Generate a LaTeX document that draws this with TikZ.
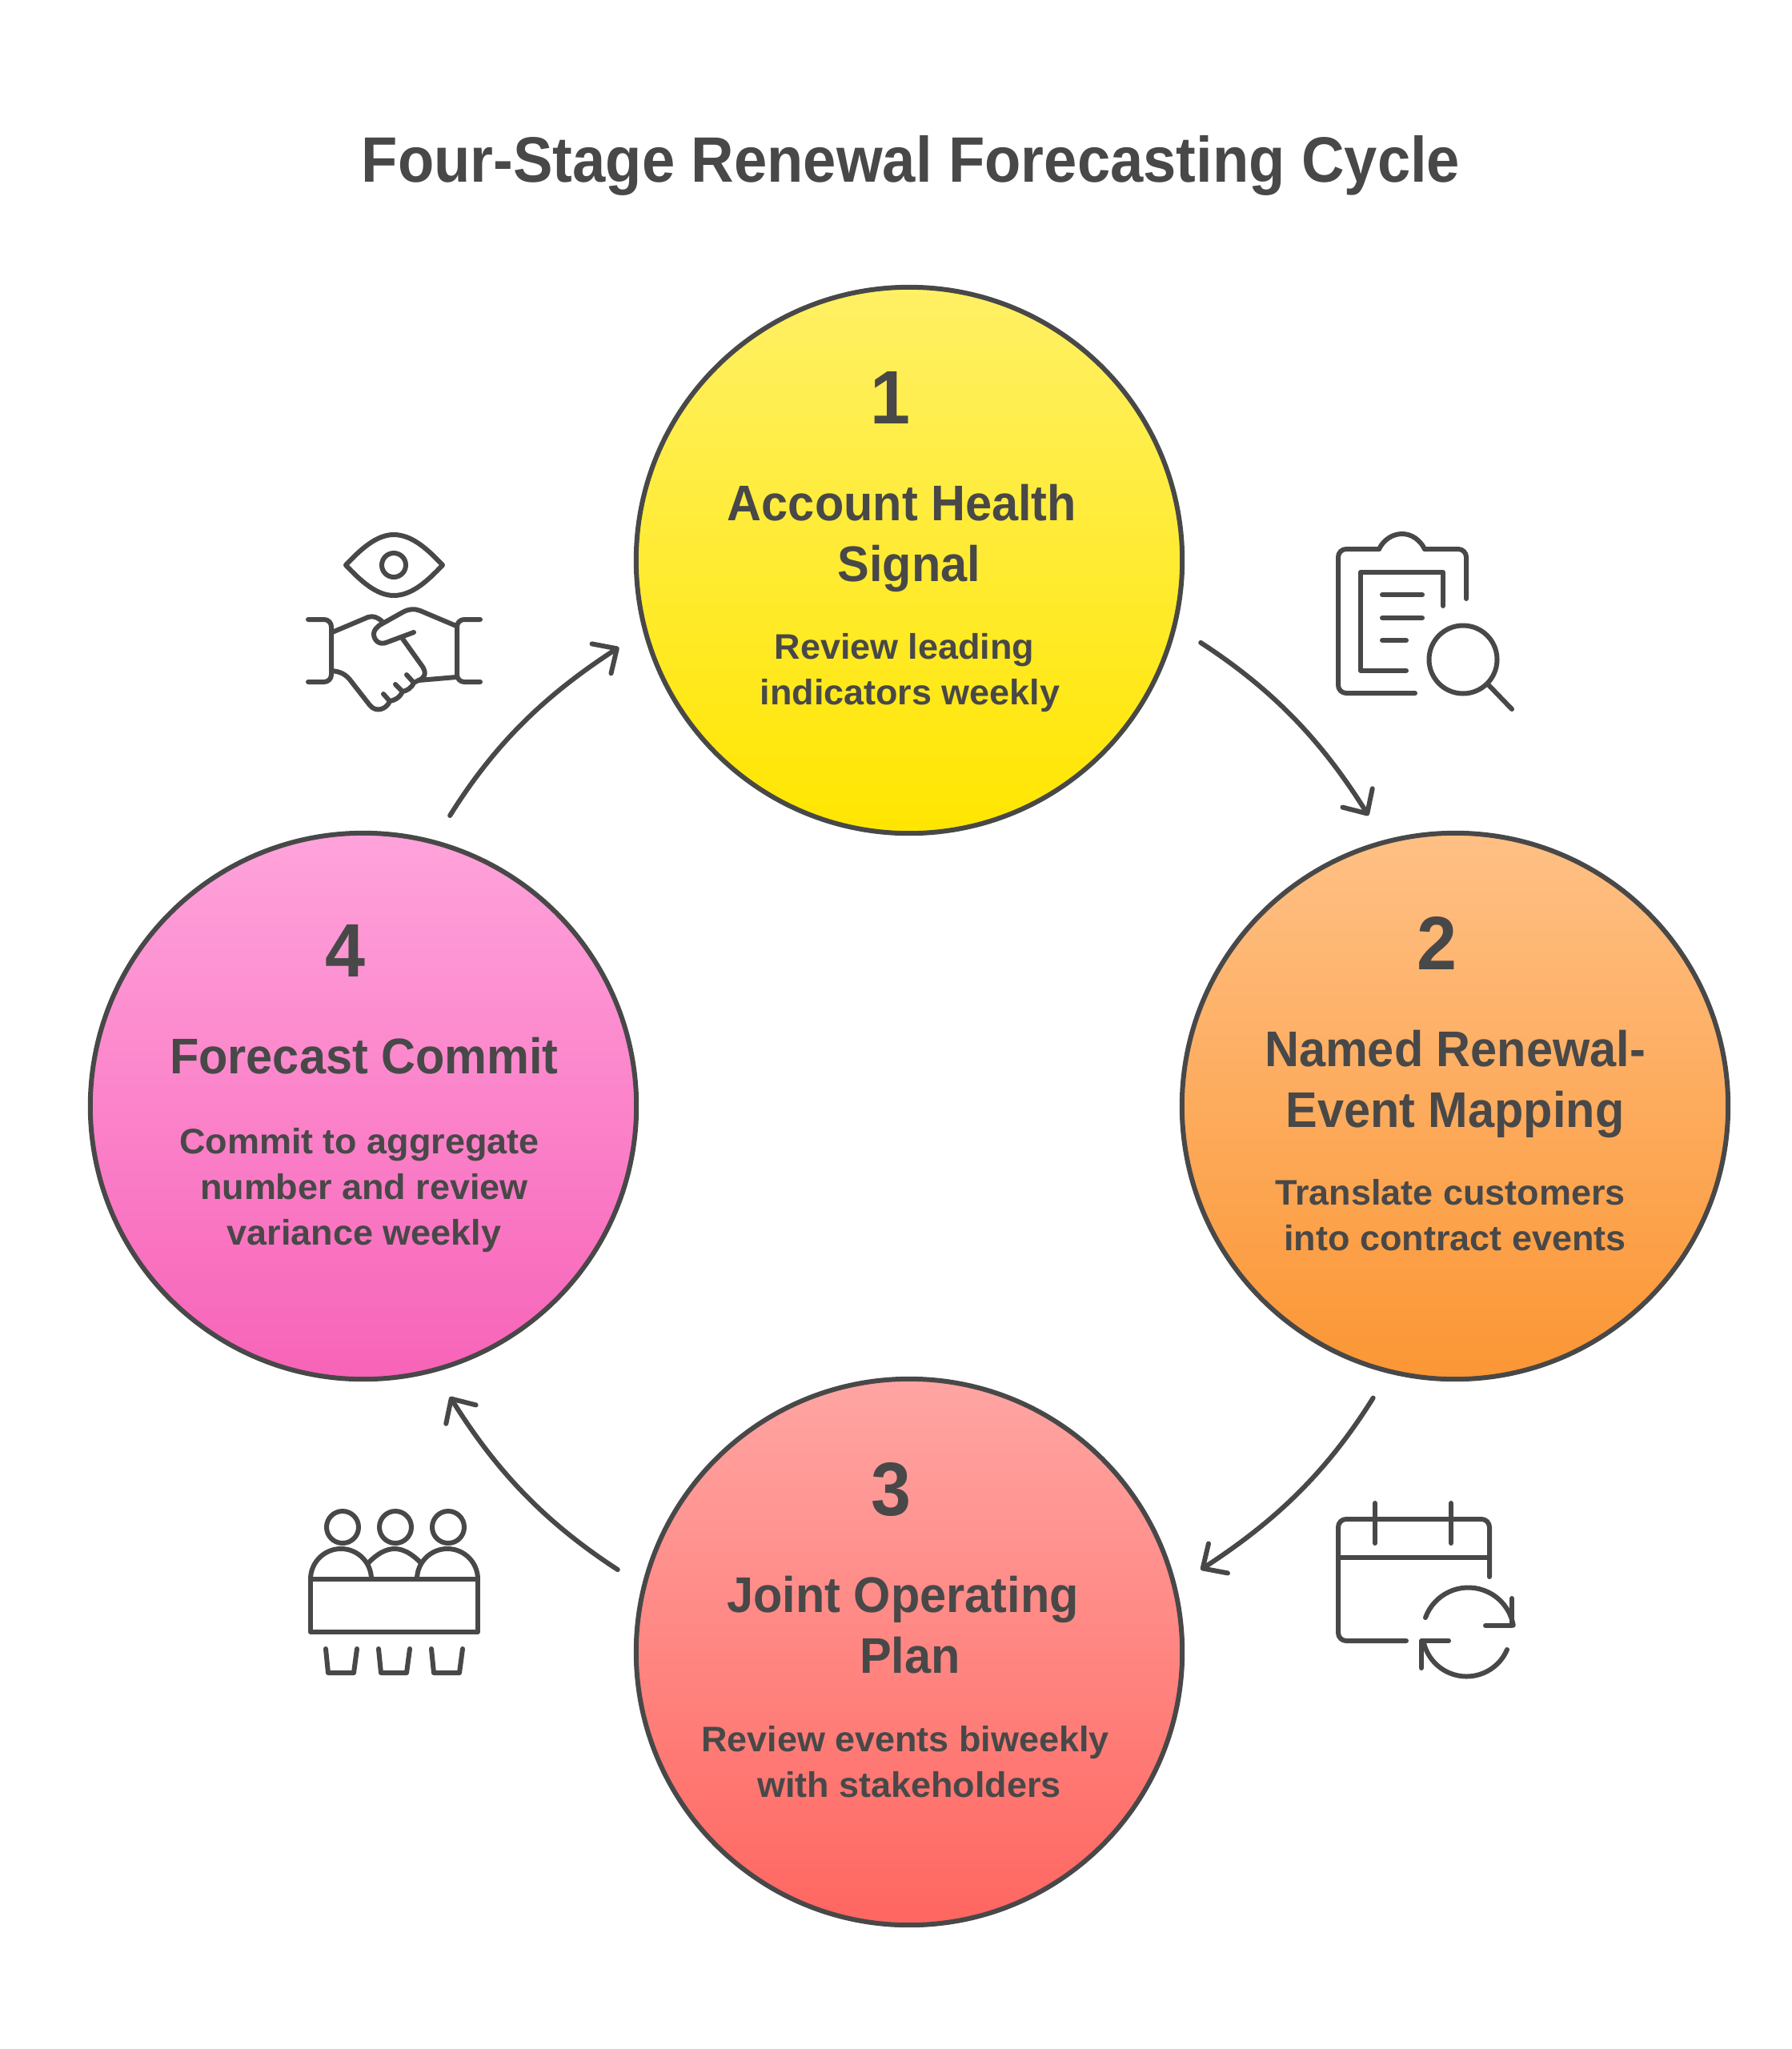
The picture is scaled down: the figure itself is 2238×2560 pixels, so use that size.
\documentclass[tikz,border=0pt]{standalone}
\usepackage{fontspec}
\setmainfont{Liberation Sans}[FakeStretch=0.95]
\newfontfamily\titulofont{Liberation Sans}[FakeStretch=0.925]
\newfontfamily\textofont{Liberation Sans}[FakeStretch=1.015]
\usetikzlibrary{arrows.meta}
\definecolor{ink}{HTML}{484848}
\definecolor{yellowtop}{HTML}{FFF065}
\definecolor{yellowbot}{HTML}{FFE600}
\definecolor{orangetop}{HTML}{FFC085}
\definecolor{orangebot}{HTML}{FB9634}
\definecolor{redtop}{HTML}{FFA5A3}
\definecolor{redbot}{HTML}{FF6660}
\definecolor{pinktop}{HTML}{FFA3DB}
\definecolor{pinkbot}{HTML}{F763B8}
\begin{document}
\begin{tikzpicture}[x=0.01cm,y=-0.01cm,>={Straight Barb[length=0.23cm,width=0.44cm,round]},
etapa/.style ={circle, draw=ink, line width=0.06cm, minimum size=6.82cm, inner sep=0pt},
titulo/.style ={text=ink, anchor=base, inner sep=0pt, font=\titulofont\bfseries\fontsize{22.8}{28}\selectfont},
numero/.style ={text=ink, anchor=base, inner sep=0pt, font=\bfseries\fontsize{26.9}{32}\selectfont},
cabeza/.style ={text=ink, anchor=base, inner sep=0pt, align=center, font=\bfseries\fontsize{17.8}{21.6}\selectfont},
texto/.style ={text=ink, anchor=base, inner sep=0pt, align=center, font=\textofont\bfseries\fontsize{12.6}{16.2}\selectfont},
flecha/.style ={->, draw=ink, line width=0.06cm, line cap=round, shorten >=0.36cm, shorten <=0.36cm},
icono/.style ={draw=ink, line width=0.06cm, line cap=round, line join=round}
]
\useasboundingbox (0,0) rectangle (2238,2560);
\draw (1138,227) node[titulo] (T) {Four-Stage Renewal Forecasting Cycle};

\draw (1136,700) node[etapa, top color=yellowtop, bottom color=yellowbot] (E1) {};
\draw (1818,1382) node[etapa, top color=orangetop, bottom color=orangebot] (E2) {};
\draw (1136,2064) node[etapa, top color=redtop, bottom color=redbot] (E3) {};
\draw (454,1382) node[etapa, top color=pinktop, bottom color=pinkbot] (E4) {};

\draw (1112,529) node[numero] (N1) {1};
\draw (1136,726) node[cabeza] (C1) {Account Health\hspace*{0.18cm}\\Signal};
\draw (1137,880) node[texto] (D1) {Review leading\hspace*{0.14cm}\\indicators weekly};

\draw (1795,1211) node[numero] (N2) {2};
\draw (1818,1408) node[cabeza] (C2) {Named Renewal-\\Event Mapping};
\draw (1818,1562) node[texto] (D2) {Translate customers\hspace*{0.12cm}\\into contract events};

\draw (1113,1893) node[numero] (N3) {3};
\draw (1137,2090) node[cabeza] (C3) {Joint Operating\hspace*{0.18cm}\\Plan};
\draw (1136,2245) node[texto] (D3) {Review events biweekly\hspace*{0.10cm}\\with stakeholders};

\draw (431,1220) node[numero] (N4) {4};
\draw (455,1341) node[cabeza] (C4) {Forecast Commit};
\draw (455,1555) node[texto] (D4) {Commit to aggregate\hspace*{0.12cm}\\number and review\hspace*{0.12cm}\\variance weekly};

\draw[flecha] (E1.-14.9) to[out=-33,in=122] (E2.105.5);
\draw[flecha] (E2.-104.7) to[out=-122,in=33] (E3.14.4);
\draw[flecha] (E3.166.1) to[out=147,in=-58] (E4.-75.3);
\draw[flecha] (E4.75.4) to[out=58,in=213] (E1.195.2);

\draw[icono, rounded corners=0.1cm] (1832,748) -- (1832,686) -- (1780,686);
\draw[icono] (1780,686) .. controls (1774,674) and (1763,667) .. (1752,667) .. controls (1740,667) and (1729,674) .. (1723,686);
\draw[icono, rounded corners=0.1cm] (1723,686) -- (1672,686) -- (1672,866) -- (1768,866);
\draw[icono] (1803,757) -- (1803,715) -- (1700,715) -- (1700,838) -- (1757,838);
\draw[icono] (1727,743) -- (1777,743);
\draw[icono] (1727,772) -- (1777,772);
\draw[icono] (1727,800) -- (1757,800);
\draw[icono] (1828,824) circle (42.5);
\draw[icono] (1860,856) -- (1889,886);

\draw[icono] (432,706) .. controls (450,687) and (470,668) .. (492,668) .. controls (515,668) and (535,687) .. (553,706) .. controls (535,725) and (515,744) .. (492,744) .. controls (470,744) and (450,725) .. (432,706) -- cycle;
\draw[icono] (492,706) circle (15);
\draw[icono, rounded corners=0.09cm] (385,774) -- (414,774) -- (414,852) -- (385,852);
\draw[icono, rounded corners=0.09cm] (600,774) -- (571,774) -- (571,852) -- (600,852);
\draw[icono] (415,790) -- (460,771) .. controls (466,769) and (472,771) .. (478,777);
\draw[icono] (570,782) -- (525,763) .. controls (518,760) and (510,761) .. (503,765) -- (478,779) .. controls (470,783) and (467,788) .. (467,792) .. controls (467,800) and (474,806) .. (482,803) -- (517,790);
\draw[icono] (503,798) -- (528,833) .. controls (533,841) and (531,847) .. (523,850) -- (517,853) .. controls (514,860) and (508,863) .. (503,864) .. controls (499,872) and (493,875) .. (487,876) .. controls (483,886) and (470,891) .. (462,881) -- (437,849) .. controls (431,842) and (425,839) .. (414,838);
\draw[icono] (508,843) -- (517,853);
\draw[icono] (494,855) -- (503,864);
\draw[icono] (479,867) -- (487,876);
\draw[icono] (523,850) -- (570,846);

\draw[icono, rounded corners=0.1cm] (1861,1970) -- (1861,1898) -- (1672,1898) -- (1672,2050) -- (1757,2050);
\draw[icono] (1672,1946) -- (1861,1946);
\draw[icono] (1718,1878) -- (1718,1928);
\draw[icono] (1813,1878) -- (1813,1928);
\draw[icono] (1781,2021) arc[start angle=200,end angle=350,radius=57];
\draw[icono] (1883,2061) arc[start angle=23,end angle=169,radius=55];
\draw[icono] (1889,1997) -- (1889,2031) -- (1856,2031);
\draw[icono] (1810,2050) -- (1776,2050) -- (1776,2084);

\foreach \hx in {428,494,560} \draw[icono] (\hx,1908) circle (20);
\draw[icono] (388,1973) rectangle (597,2039);
\draw[icono] (388,1973) arc[start angle=180,end angle=360,radius=38];
\draw[icono] (521,1973) arc[start angle=180,end angle=360,radius=38];
\draw[icono] (460,1953) .. controls (470,1942) and (482,1935) .. (493,1935) .. controls (504,1935) and (516,1942) .. (526,1953);
\foreach \lx in {0,66,132} \draw[icono] (407+\lx,2060) -- (410+\lx,2090) -- (442+\lx,2090) -- (446+\lx,2060);
\end{tikzpicture}
\end{document}
